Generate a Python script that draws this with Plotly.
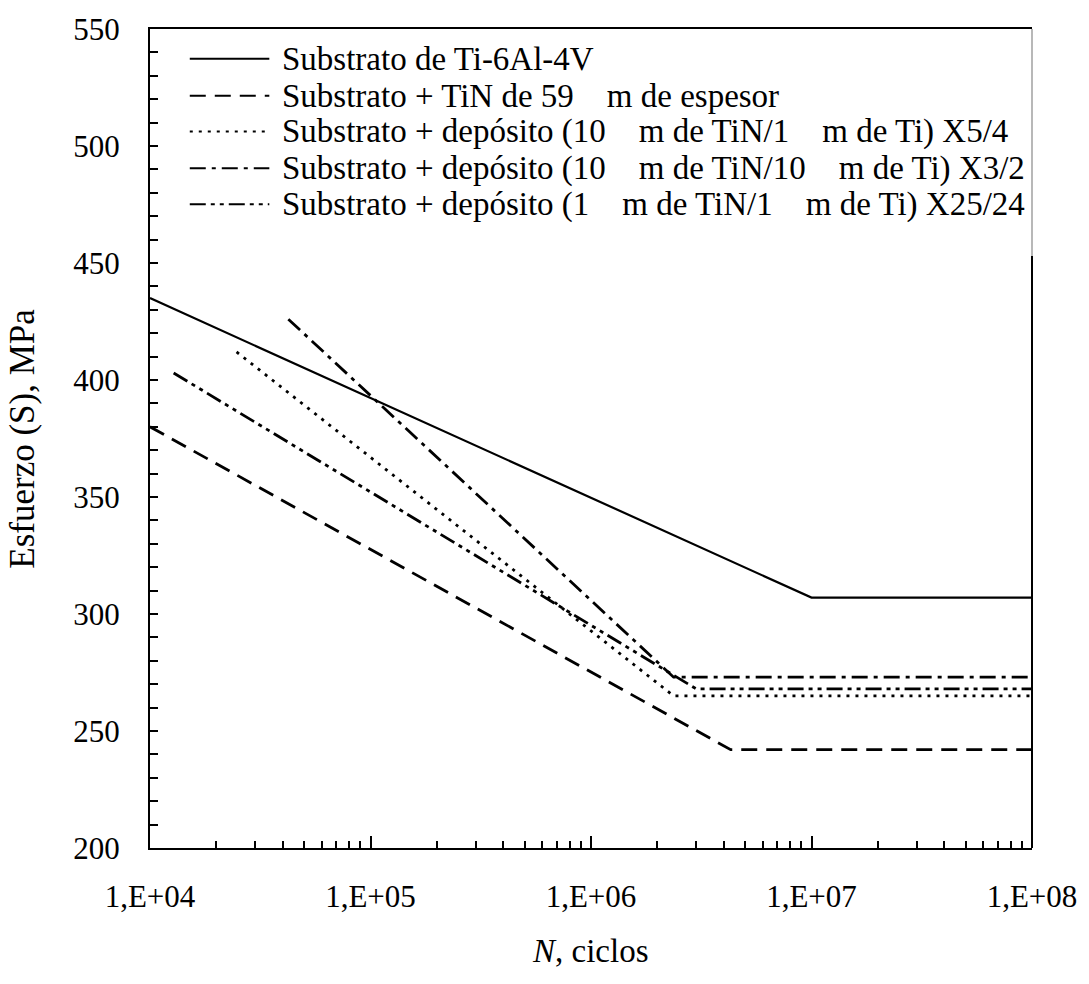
import plotly.graph_objects as go

# ---- data ----
n_ti = [1e4, 1e7, 1e8]
s_ti = [435, 307, 307]

n_tin59 = [1e4, 4.3e6, 1e8]
s_tin59 = [380, 242, 242]

n_x54 = [2.47e4, 2.37e6, 1e8]
s_x54 = [412, 265, 265]

n_x32 = [4.24e4, 2.37e6, 1e8]
s_x32 = [426, 273, 273]

n_x2524 = [1.28e4, 3.0e6, 1e8]
s_x2524 = [403, 268, 268]

labels = [
    "Substrato de Ti-6Al-4V",
    "Substrato + TiN de 59\u00a0\u00a0\u00a0\u00a0m de espesor",
    "Substrato + depósito (10\u00a0\u00a0\u00a0\u00a0m de TiN/1\u00a0\u00a0\u00a0\u00a0m de Ti) X5/4",
    "Substrato + depósito (10\u00a0\u00a0\u00a0\u00a0m de TiN/10\u00a0\u00a0\u00a0\u00a0m de Ti) X3/2",
    "Substrato + depósito (1\u00a0\u00a0\u00a0\u00a0m de TiN/1\u00a0\u00a0\u00a0\u00a0m de Ti) X25/24",
]

x_tickvals = [1e4, 1e5, 1e6, 1e7, 1e8]
x_ticktext = ["1,E+04", "1,E+05", "1,E+06", "1,E+07", "1,E+08"]
y_tickvals = [200, 250, 300, 350, 400, 450, 500, 550]

# ---- styles ----
dashes = [
    "solid",
    "16px,9px",
    "3px,6px",
    "16px,6px,4px,6px",
    "16px,5px,4px,5px,4px,5px",
]
widths = [2.2, 2.8, 2.8, 2.8, 2.8]
series = [(n_ti, s_ti), (n_tin59, s_tin59), (n_x54, s_x54), (n_x32, s_x32), (n_x2524, s_x2524)]

FONT = "Liberation Serif, Times New Roman, serif"

fig = go.Figure()
for (xs, ys), d, w, name in zip(series, dashes, widths, labels):
    fig.add_trace(go.Scatter(x=xs, y=ys, mode="lines", name=name,
                             line=dict(color="black", width=w, dash=d),
                             showlegend=False))

# pixel -> paper helpers for layout furniture
L, R, T, B = 150, 1037, 25, 848
def px(x):
    return (x - L) / (R - L)
def py(y):
    return (B - y) / (B - T)

minor_x = [m * 10 ** e for e in range(4, 8) for m in range(2, 10)]

fig.update_layout(
    width=1089, height=984,
    margin=dict(l=L, r=1089 - R, t=T, b=984 - B),
    plot_bgcolor="white", paper_bgcolor="white",
    font=dict(family=FONT, size=31, color="black"),
    showlegend=False,
    xaxis=dict(
        type="log", range=[4, 8],
        tickvals=x_tickvals, ticktext=x_ticktext,
        ticks="inside", ticklen=12, tickwidth=1.5, tickcolor="black",
        ticklabelstandoff=20,
        minor=dict(tickvals=minor_x, ticks="inside", ticklen=7, tickwidth=1.5, tickcolor="black"),
        showline=True, linecolor="black", linewidth=2, mirror=True,
        showgrid=False, zeroline=False,
        tickfont=dict(family=FONT, size=31, color="black"),
    ),
    yaxis=dict(
        range=[200, 550],
        tickvals=y_tickvals,
        ticks="inside", ticklen=8, tickwidth=1.5, tickcolor="black",
        ticklabelstandoff=22,
        minor=dict(dtick=10, ticks="inside", ticklen=8, tickwidth=1.5, tickcolor="black"),
        showline=True, linecolor="black", linewidth=2, mirror=False,
        showgrid=False, zeroline=False,
        tickfont=dict(family=FONT, size=31, color="black"),
    ),
)

# right frame: light grey beside legend box, black below
fig.add_shape(type="line", xref="paper", yref="paper", x0=1, x1=1, y0=py(253), y1=1,
              line=dict(color="#a0a0a0", width=1.5))
fig.add_shape(type="line", xref="paper", yref="paper", x0=1, x1=1, y0=0, y1=py(253),
              line=dict(color="black", width=2))

# manual legend (long line samples as in the reference)
rows = [55, 92, 128, 165, 201]
for yrow, d, name in zip(rows, dashes, labels):
    fig.add_shape(type="line", xref="paper", yref="paper",
                  x0=px(190), x1=px(270), y0=py(yrow), y1=py(yrow),
                  line=dict(color="black", width=2, dash=d))
    fig.add_annotation(xref="paper", yref="paper", x=px(281), y=py(yrow),
                       text=name, showarrow=False, xanchor="left", yanchor="middle",
                       font=dict(family=FONT, size=33, color="black"))

# axis titles
fig.add_annotation(xref="paper", yref="paper", x=px(22), y=py(437), text="Esfuerzo (S), MPa",
                   textangle=-90, showarrow=False, xanchor="center", yanchor="middle",
                   font=dict(family=FONT, size=35, color="black"))
fig.add_annotation(xref="paper", yref="paper", x=px(593), y=py(952), text="<i>N</i>, ciclos",
                   showarrow=False, xanchor="center", yanchor="middle",
                   font=dict(family=FONT, size=33, color="black"))

fig.write_html("out.html")
